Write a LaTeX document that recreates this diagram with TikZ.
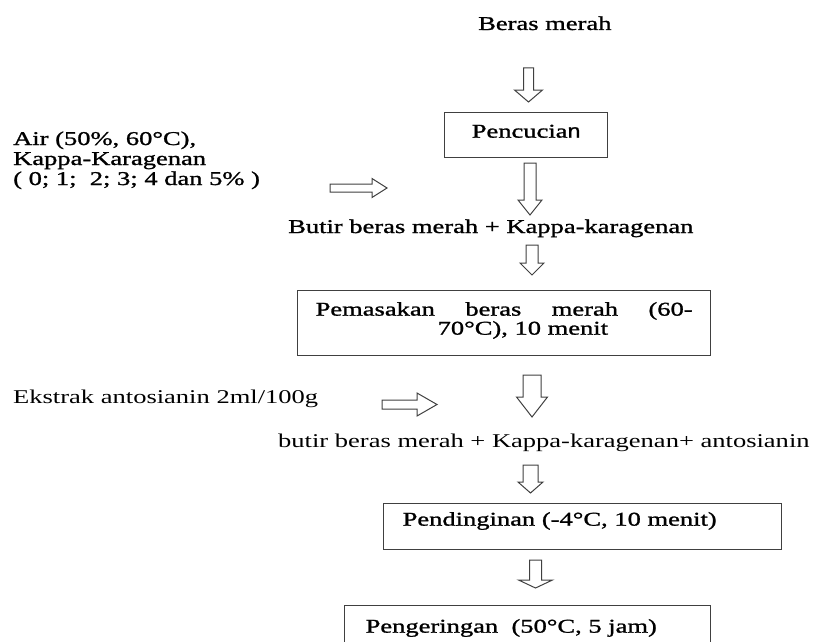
\documentclass[tikz,border=0pt]{standalone}
\usepackage{fontspec}
\setmainfont{Liberation Serif}[FakeStretch=1.36]
\newfontfamily\bfk{Liberation Serif}[FakeStretch=1.36, FakeBold=1.2]
\newfontfamily\snf{Liberation Sans}[FakeStretch=1.2, FakeBold=1.2]
\tikzset{
  txt/.style={inner sep=0pt, anchor=base west},
  proc/.style={draw=black!75, line width=1.3pt, anchor=north west, inner ysep=0pt},
  blk/.style={draw=black!75, line width=1pt, fill=white, line join=miter},
  pics/dn/.style args={#1/#2/#3/#4}{code={
    \draw[blk] (-#3,0) -- (#3,0) -- (#3,#1) -- (#4,#1) -- (0,#2) -- (-#4,#1) -- (-#3,#1) -- cycle;}},
  pics/rt/.style args={#1/#2/#3/#4}{code={
    \draw[blk] (0,-#3) -- (#1,-#3) -- (#1,-#4) -- (#2,0) -- (#1,#4) -- (#1,#3) -- (0,#3) -- cycle;}}
}
\begin{document}
\begin{tikzpicture}[x=1pt,y=-1pt,font=\fontsize{19.5}{20}\selectfont]
\useasboundingbox (0,0) rectangle (814,642);
\clip (0,0) rectangle (814,642);

% texts
\node[txt] (beras) at (478,30) {\bfk Beras merah};
\node[txt] (air) at (13,145) {\bfk\vtop{\baselineskip=20pt
  \hbox{Air (50\%, 60°C),}
  \hbox{Kappa-Karagenan}
  \hbox{( 0; 1;\ \ 2; 3; 4 dan 5\% )}}};
\node[txt] (butir1) at (288,233) {\bfk Butir beras merah + Kappa-karagenan};
\node[txt] (ekstrak) at (13,403) {Ekstrak antosianin 2ml/100g};
\node[txt] (butir2) at (278,447) {butir beras merah + Kappa-karagenan+ antosianin};

% process boxes
\node[proc, minimum width=163pt, inner xsep=0pt, inner ysep=12pt, text height=13pt, text depth=8pt]
  (cuci) at (444,112) {\bfk Pencucia{\snf n}};
\node[proc, inner xsep=18pt, text height=25pt, text depth=40pt] (masak) at (297,290)
  {\bfk\vtop{\baselineskip=19pt
   \hbox{\makebox[377pt][s]{Pemasakan beras merah (60-}}
   \hbox{\hspace*{122pt}70°C), 10 menit}}};
\node[proc, inner xsep=19pt, text height=22pt, text depth=24pt] (dingin) at (383,503)
  {\makebox[360pt][l]{\bfk Pendinginan (-4°C, 10 menit)}};
\node[proc, inner xsep=21pt, text height=27pt, text depth=30pt] (kering) at (344,605)
  {\makebox[324pt][l]{\bfk Pengeringan\ \ (50°C, 5 jam)}};

% block arrows
\pic (a1) at (528.5,68) {dn={22/34/5/14}};
\pic (a2) at (530,163) {dn={37/52/6/12}};
\pic (a3) at (532,245) {dn={18/30/6/12}};
\pic (a4) at (532,375) {dn={22/42/9/15.5}};
\pic (a5) at (530.5,465) {dn={17/28/7.5/12.5}};
\pic (a6) at (535.5,560) {dn={20/28/6/17}};
\pic (r1) at (330,188) {rt={42/57/4/9.5}};
\pic (r2) at (382,404.5) {rt={35/55/4.5/11.5}};
\end{tikzpicture}
\end{document}
